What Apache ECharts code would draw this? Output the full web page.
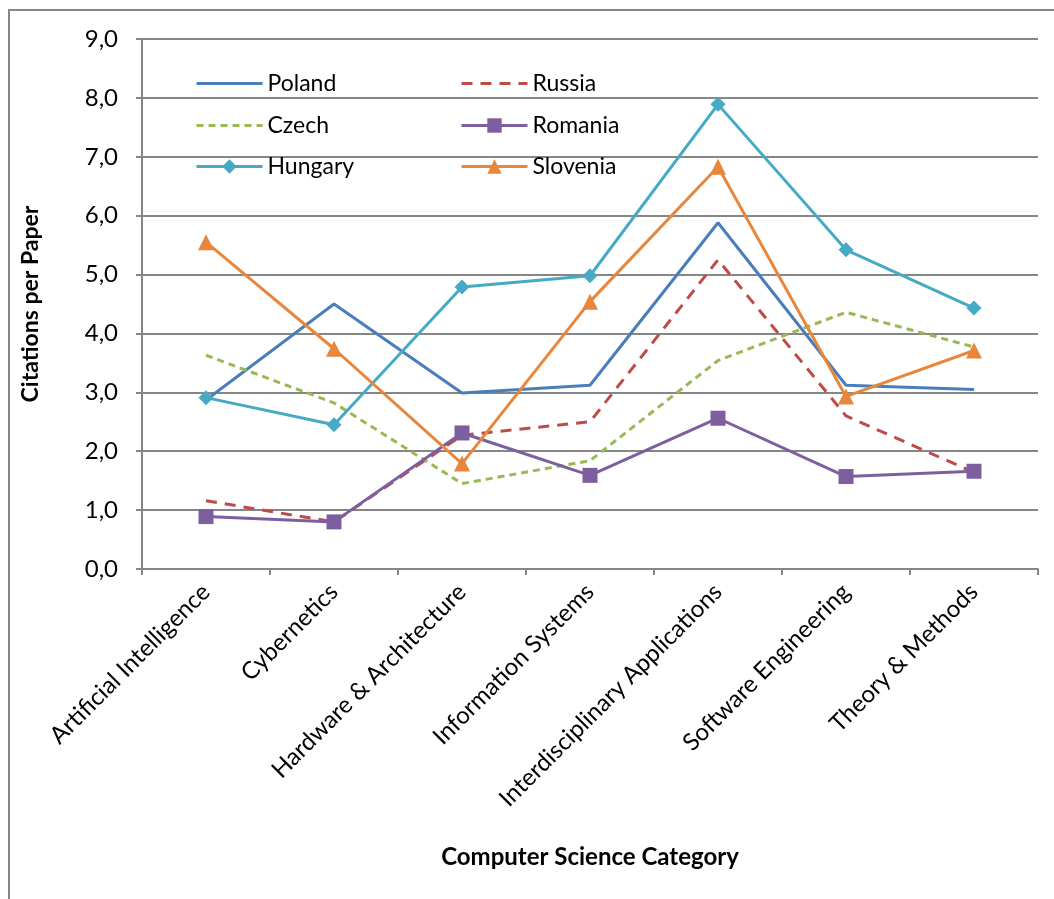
<!DOCTYPE html>
<html>
<head>
<meta charset="utf-8">
<script src="https://cdn.jsdelivr.net/npm/echarts@6/dist/echarts.min.js"></script>
<style>
html,body{margin:0;padding:0;background:#fff;}
#chart{width:1054px;height:899px;}
</style>
</head>
<body>
<div id="chart"></div>
<script>
const categories = ["Artificial Intelligence","Cybernetics","Hardware & Architecture","Information Systems","Interdisciplinary Applications","Software Engineering","Theory & Methods"];
const poland   = [2.87, 4.50, 2.99, 3.12, 5.88, 3.12, 3.05];
const russia   = [1.16, 0.80, 2.27, 2.50, 5.25, 2.60, 1.64];
const czech    = [3.63, 2.82, 1.45, 1.84, 3.54, 4.36, 3.77];
const romania  = [0.89, 0.80, 2.31, 1.59, 2.56, 1.57, 1.66];
const hungary  = [2.91, 2.45, 4.79, 4.98, 7.89, 5.42, 4.43];
const slovenia = [5.55, 3.74, 1.79, 4.54, 6.83, 2.93, 3.71];
const yTicks = [0,1,2,3,4,5,6,7,8,9];

const FONT = "Lato";
const chart = echarts.init(document.getElementById('chart'));

function mkSeries(name, data, color, dash, symbol, size){
  return {
    name, type:'line', data,
    lineStyle:{color, width:3, type: dash || 'solid'},
    itemStyle:{color, borderWidth:0},
    symbol: symbol || 'none',
    symbolSize: size || 0,
    showSymbol: !!symbol,
    emphasis:{disabled:true},
    animation:false
  };
}
const series = [
  mkSeries('Poland', poland, '#4A7EBB'),
  mkSeries('Russia', russia, '#BE4B48', [11,8]),
  mkSeries('Czech', czech, '#98B954', [7,5]),
  mkSeries('Romania', romania, '#7D5FA0', null, 'rect', 15),
  mkSeries('Hungary', hungary, '#46AAC5', null, 'diamond', 15),
  mkSeries('Slovenia', slovenia, '#E8873C', null, 'triangle', 16)
];

const legendPos = [
  ['Poland',190,67,false],['Russia',455,67,false],
  ['Czech',190,109,false],['Romania',455,109,true],
  ['Hungary',190,150,true],['Slovenia',455,150,true]
];
const legends = legendPos.map(([n,x,y,mk]) => ({
  data:[n], left:x, top:y, itemWidth:66, itemHeight:18, itemGap:10,
  textStyle:{fontFamily:FONT, fontSize:23, color:'#000'},
  itemStyle: mk ? {} : {opacity:0},
  lineStyle:{width:3},
  selectedMode:false
}));

chart.setOption({
  animation:false,
  backgroundColor:'#fff',
  graphic:[{type:'rect', shape:{x:9,y:10,width:1200,height:1000}, style:{fill:'none', stroke:'#868686', lineWidth:2}, z:-1}],
  legend: legends,
  grid:{left:142, right:16, top:39, bottom:330, containLabel:false},
  xAxis:{
    type:'category', data:categories, boundaryGap:true,
    name:'Computer Science Category', nameLocation:'middle', nameGap:276,
    nameTextStyle:{fontFamily:FONT, fontSize:24, fontWeight:'bold', color:'#000'},
    axisLine:{lineStyle:{color:'#868686', width:2}},
    axisTick:{show:true, length:6, alignWithLabel:false, lineStyle:{color:'#868686', width:2}},
    axisLabel:{rotate:45, fontFamily:FONT, fontSize:24, color:'#000', margin:19, interval:0}
  },
  yAxis:{
    type:'value', min:0, max:9, interval:1,
    name:'Citations per Paper', nameLocation:'middle', nameGap:100, nameRotate:90,
    nameTextStyle:{fontFamily:FONT, fontSize:23, fontWeight:'bold', color:'#000'},
    axisLine:{show:true, lineStyle:{color:'#868686', width:2}},
    axisTick:{show:true, length:6, lineStyle:{color:'#868686', width:2}},
    splitLine:{show:true, lineStyle:{color:'#868686', width:2}},
    axisLabel:{fontFamily:FONT, fontSize:24, color:'#000', margin:24,
      formatter: v => yTicks.includes(v) ? v.toFixed(1).replace('.',',') : ''}
  },
  series
});
</script>
</body>
</html>
